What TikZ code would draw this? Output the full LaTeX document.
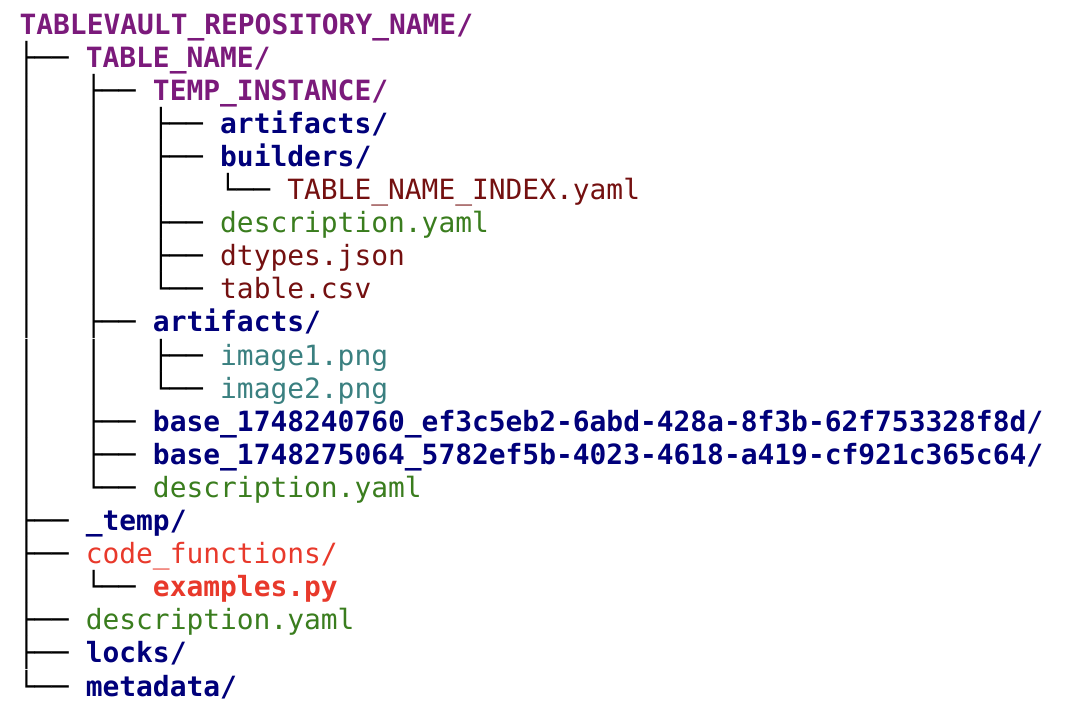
\documentclass[tikz,border=0pt]{standalone}
\usepackage{fontspec}
\setmonofont{DejaVu Sans Mono}
\definecolor{topcol}{HTML}{7B1A7B}
\definecolor{dircol}{HTML}{00007A}
\definecolor{datacol}{HTML}{741010}
\definecolor{yamlcol}{HTML}{3A7D1E}
\definecolor{imgcol}{HTML}{3A8080}
\definecolor{codecol}{HTML}{E8392B}
\tikzset{
  entry/.style={anchor=base west,inner sep=0pt,font=\ttfamily\fontsize{27.9}{30}\selectfont},
  branch/.style={entry,black},
  top/.style={entry,topcol,font=\ttfamily\bfseries\fontsize{27.9}{30}\selectfont},
  dir/.style={entry,dircol,font=\ttfamily\bfseries\fontsize{27.9}{30}\selectfont},
  data/.style={entry,datacol},
  yaml/.style={entry,yamlcol},
  img/.style={entry,imgcol},
  code/.style={entry,codecol},
  codeb/.style={entry,codecol,font=\ttfamily\bfseries\fontsize{27.9}{30}\selectfont}
}
\begin{document}
\begin{tikzpicture}[x=1pt,y=-1pt]
\useasboundingbox (0,0) rectangle (1072,716);
% one row per entry of the tree
\foreach \pre/\name/\kind [count=\i from 0] in {
  {}/{TABLEVAULT\_REPOSITORY\_NAME/}/top,
  {├──~}/{TABLE\_NAME/}/top,
  {│~~~├──~}/{TEMP\_INSTANCE/}/top,
  {│~~~│~~~├──~}/{artifacts/}/dir,
  {│~~~│~~~├──~}/{builders/}/dir,
  {│~~~│~~~│~~~└──~}/{TABLE\_NAME\_INDEX.yaml}/data,
  {│~~~│~~~├──~}/{description.yaml}/yaml,
  {│~~~│~~~├──~}/{dtypes.json}/data,
  {│~~~│~~~└──~}/{table.csv}/data,
  {│~~~├──~}/{artifacts/}/dir,
  {│~~~│~~~├──~}/{image1.png}/img,
  {│~~~│~~~└──~}/{image2.png}/img,
  {│~~~├──~}/{base\_1748240760\_ef3c5eb2-6abd-428a-8f3b-62f753328f8d/}/dir,
  {│~~~├──~}/{base\_1748275064\_5782ef5b-4023-4618-a419-cf921c365c64/}/dir,
  {│~~~└──~}/{description.yaml}/yaml,
  {├──~}/{\_temp/}/dir,
  {├──~}/{code\_functions/}/code,
  {│~~~└──~}/{examples.py}/codeb,
  {├──~}/{description.yaml}/yaml,
  {├──~}/{locks/}/dir,
  {└──~}/{metadata/}/dir}
{
  \node[branch] (pre\i) at (18,{34+33.1*\i}) {\pre\strut};
  \node[\kind] (name\i) at (pre\i.base east) {\name};
}
\end{tikzpicture}
\end{document}
